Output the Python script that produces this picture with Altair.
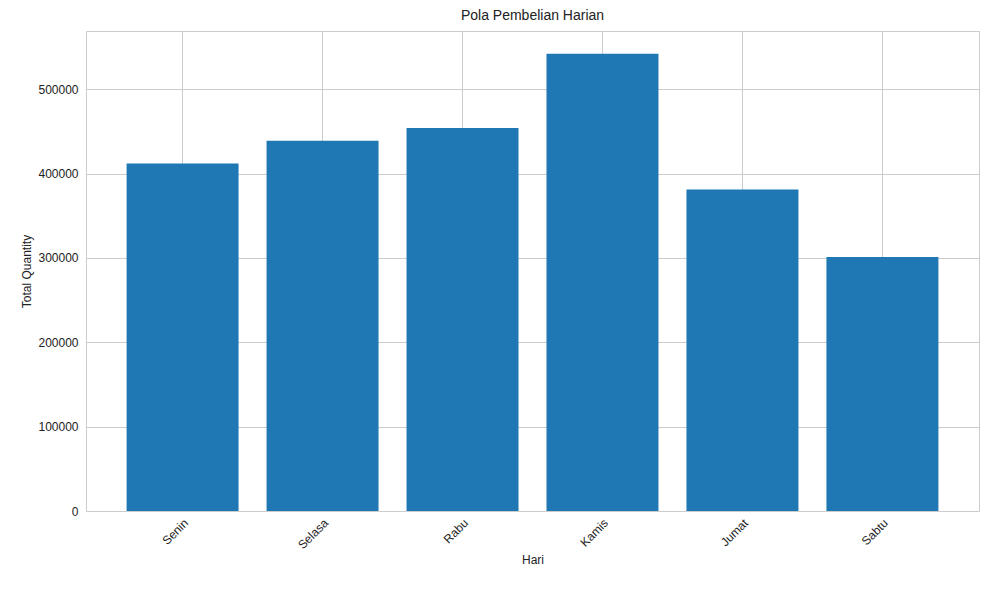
import altair as alt
import pandas as pd

days = ["Senin", "Selasa", "Rabu", "Kamis", "Jumat", "Sabtu"]
qty = [412000, 439000, 454000, 542000, 381000, 301000]

df = pd.DataFrame({"Hari": days, "Total Quantity": qty})
font = "Liberation Sans"

chart = alt.Chart(df).mark_bar(color="#1f77b4").encode(
    x=alt.X("Hari:N", sort=days,
            scale=alt.Scale(paddingInner=0.2, paddingOuter=0.29),
            axis=alt.Axis(labelAngle=-45, grid=True, gridColor="#cccccc", ticks=False,
                          domain=False, labelFontSize=12, titleFontSize=12,
                          labelColor="#222", titleColor="#222", titleFontWeight="normal",
                          labelPadding=6, bandPosition=0.5)),
    y=alt.Y("Total Quantity:Q", scale=alt.Scale(domain=[0, 569000], nice=False),
            axis=alt.Axis(values=[0, 100000, 200000, 300000, 400000, 500000], format="d",
                          grid=True, gridColor="#cccccc", ticks=False, domain=False,
                          labelFontSize=12, titleFontSize=12, labelColor="#222",
                          titleColor="#222", titleFontWeight="normal", labelPadding=8)),
).properties(
    width=893, height=480,
    title=alt.Title("Pola Pembelian Harian", fontSize=14, fontWeight="normal", color="#222", offset=8),
    autosize=alt.AutoSizeParams(type="none"),
    padding={"left": 78, "top": 23, "right": 2, "bottom": 70},
).configure(font=font).configure_view(stroke="#cccccc")

chart.save("out.html", embed_options={"renderer": "svg", "actions": False})
